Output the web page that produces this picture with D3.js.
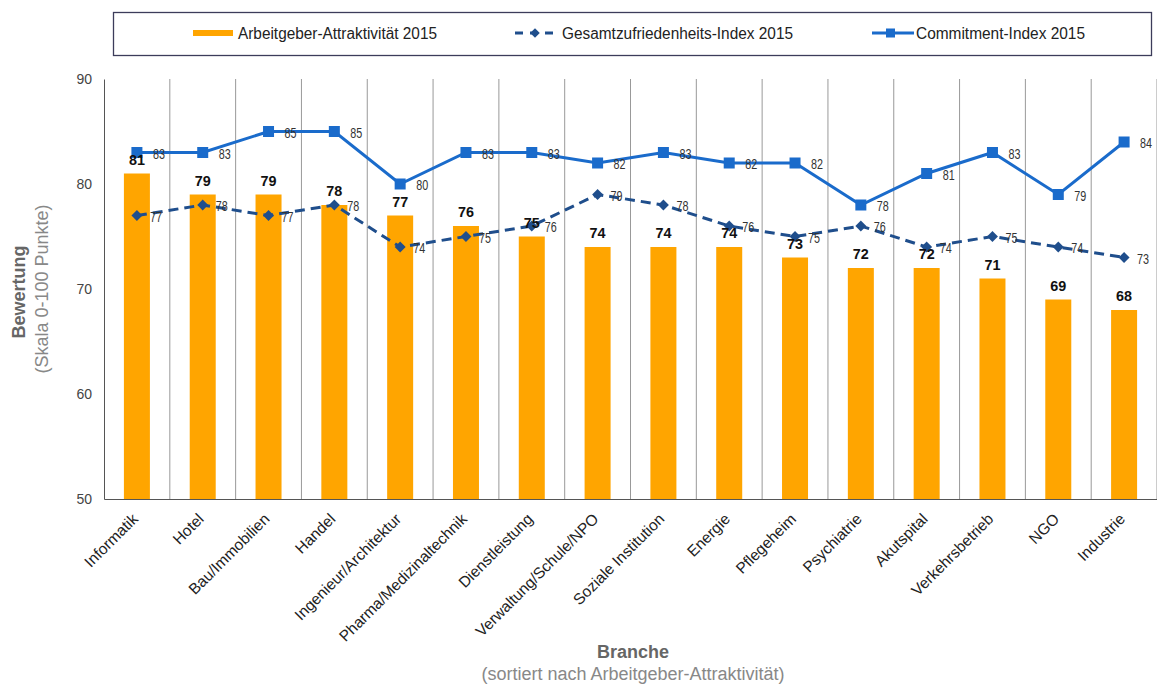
<!DOCTYPE html>
<html><head><meta charset="utf-8">
<script src="https://cdn.jsdelivr.net/npm/d3@7"></script>
<style>
html,body{margin:0;padding:0;background:#fff;}
svg{display:block;}
</style></head>
<body>
<svg id="c" width="1157" height="684"></svg>
<script>
const categories = ["Informatik","Hotel","Bau/Immobilien","Handel","Ingenieur/Architektur","Pharma/Medizinaltechnik","Dienstleistung","Verwaltung/Schule/NPO","Soziale Institution","Energie","Pflegeheim","Psychiatrie","Akutspital","Verkehrsbetrieb","NGO","Industrie"];
const attraktivitaet = [81,79,79,78,77,76,75,74,74,74,73,72,72,71,69,68];
const gesamtzufriedenheit = [77,78,77,78,74,75,76,79,78,76,75,76,74,75,74,73];
const commitment = [83,83,85,85,80,83,83,82,83,82,82,78,81,83,79,84];
const yTicks = [50,60,70,80,90];
const seriesNames = ["Arbeitgeber-Attraktivität 2015","Gesamtzufriedenheits-Index 2015","Commitment-Index 2015"];

const ORANGE = "#FFA500", DASH = "#1F4E8C", SOLID = "#1A6BCB";
const SANS = "'Liberation Sans',Arial,sans-serif";

const svg = d3.select("#c");
const pLeft = 104, pRight = 1157, pTop = 79, pBottom = 499;

const x = d3.scaleBand().domain(categories).range([pLeft, pRight]).paddingInner(0).paddingOuter(0);
const y = d3.scaleLinear().domain([50, 90]).range([pBottom, pTop]);
const cx = d => x(d) + x.bandwidth() / 2;

// vertical grid lines at band boundaries
const g = svg.append("g");
g.selectAll("line.vg").data(categories).join("line")
  .attr("x1", d => x(d) + x.bandwidth())
  .attr("x2", d => x(d) + x.bandwidth())
  .attr("y1", pTop).attr("y2", pBottom)
  .attr("stroke", "#999").attr("stroke-width", 1);

// bars
const barW = 26;
g.selectAll("rect.bar").data(categories).join("rect")
  .attr("x", d => cx(d) - barW/2)
  .attr("width", barW)
  .attr("y", (d,i) => y(attraktivitaet[i]))
  .attr("height", (d,i) => pBottom - y(attraktivitaet[i]))
  .attr("fill", ORANGE);

// axes
const yAxis = d3.axisLeft(y).tickValues(yTicks).tickSize(0).tickPadding(12);
const ya = svg.append("g").attr("transform", `translate(${pLeft},0)`).call(yAxis);
ya.select(".domain").attr("stroke", "#555");
ya.selectAll("text").attr("font-family", SANS).attr("font-size", 14).attr("fill", "#444");

const xAxis = d3.axisBottom(x).tickSize(0).tickPadding(0);
const xa = svg.append("g").attr("transform", `translate(0,${pBottom})`).call(xAxis);
xa.select(".domain").attr("stroke", "#555");
xa.selectAll("text")
  .attr("font-family", SANS).attr("font-size", 15.5).attr("fill", "#222")
  .attr("text-anchor", "end").attr("dy", 0)
  .attr("transform", "translate(2,21) rotate(-45)");

// lines
const lineGen = vals => d3.line().x((d,i) => cx(categories[i])).y(d => y(d))(vals);
svg.append("path").attr("d", lineGen(gesamtzufriedenheit)).attr("fill","none")
  .attr("stroke", DASH).attr("stroke-width", 3).attr("stroke-dasharray","10,6");
svg.append("path").attr("d", lineGen(commitment)).attr("fill","none")
  .attr("stroke", SOLID).attr("stroke-width", 3);

// markers
svg.selectAll("path.dia").data(gesamtzufriedenheit).join("path")
  .attr("d", d3.symbol().type(d3.symbolSquare).size(60))
  .attr("transform", (d,i) => `translate(${cx(categories[i])},${y(d)}) rotate(45)`)
  .attr("fill", DASH);
svg.selectAll("rect.sq").data(commitment).join("rect")
  .attr("x", (d,i) => cx(categories[i]) - 5.5).attr("y", d => y(d) - 5.5)
  .attr("width", 11).attr("height", 11).attr("fill", SOLID);

// labels
svg.selectAll("text.bl").data(attraktivitaet).join("text")
  .attr("x", (d,i) => cx(categories[i])).attr("y", d => y(d) - 9)
  .attr("text-anchor","middle").attr("font-family", SANS).attr("font-weight","bold")
  .attr("font-size", 15.5).attr("textLength", 16).attr("lengthAdjust","spacingAndGlyphs")
  .attr("fill","#111").text(d => d);
svg.selectAll("text.gl").data(gesamtzufriedenheit).join("text")
  .attr("x", (d,i) => cx(categories[i]) + 13).attr("y", d => y(d) + 6)
  .attr("font-family", SANS).attr("font-size", 15.5).attr("textLength", 12).attr("lengthAdjust","spacingAndGlyphs")
  .attr("fill","#333").text(d => d);
svg.selectAll("text.cl").data(commitment).join("text")
  .attr("x", (d,i) => cx(categories[i]) + 16).attr("y", d => y(d) + 6)
  .attr("font-family", SANS).attr("font-size", 15.5).attr("textLength", 12).attr("lengthAdjust","spacingAndGlyphs")
  .attr("fill","#333").text(d => d);

// axis titles
svg.append("text").attr("transform","translate(25,292) rotate(-90)").attr("text-anchor","middle")
  .attr("font-family", SANS).attr("font-weight","bold").attr("font-size", 18).attr("fill","#666").text("Bewertung");
svg.append("text").attr("transform","translate(48,289) rotate(-90)").attr("text-anchor","middle")
  .attr("font-family", SANS).attr("font-size", 18).attr("fill","#888").text("(Skala 0-100 Punkte)");
svg.append("text").attr("x", 633).attr("y", 658).attr("text-anchor","middle")
  .attr("font-family", SANS).attr("font-weight","bold").attr("font-size", 18).attr("fill","#666").text("Branche");
svg.append("text").attr("x", 633).attr("y", 680).attr("text-anchor","middle")
  .attr("font-family", SANS).attr("font-size", 18).attr("fill","#888").text("(sortiert nach Arbeitgeber-Attraktivität)");

// legend
const lg = svg.append("g");
lg.append("rect").attr("x", 113.5).attr("y", 12.5).attr("width", 1038).attr("height", 43)
  .attr("fill","#fff").attr("stroke","#3c3c5a").attr("stroke-width", 1.3);
const ly = 33;
const legText = (xPos, txt, len) => lg.append("text").attr("x", xPos).attr("y", ly+6)
  .attr("font-family", SANS).attr("font-size", 16).attr("textLength", len).attr("lengthAdjust","spacingAndGlyphs")
  .attr("fill","#222").text(txt);
lg.append("rect").attr("x", 193).attr("y", ly-3).attr("width", 40).attr("height", 6).attr("fill", ORANGE);
legText(238, seriesNames[0], 199);
lg.append("line").attr("x1", 515).attr("x2", 556).attr("y1", ly).attr("y2", ly)
  .attr("stroke", DASH).attr("stroke-width", 3).attr("stroke-dasharray","8,7");
lg.append("path").attr("d", d3.symbol().type(d3.symbolSquare).size(45))
  .attr("transform", `translate(535,${ly}) rotate(45)`).attr("fill", DASH);
legText(562, seriesNames[1], 231);
lg.append("line").attr("x1", 872).attr("x2", 914).attr("y1", ly).attr("y2", ly).attr("stroke", SOLID).attr("stroke-width", 3);
lg.append("rect").attr("x", 886).attr("y", ly-4.5).attr("width", 9).attr("height", 9).attr("fill", SOLID);
legText(916, seriesNames[2], 169);
</script>
</body></html>
